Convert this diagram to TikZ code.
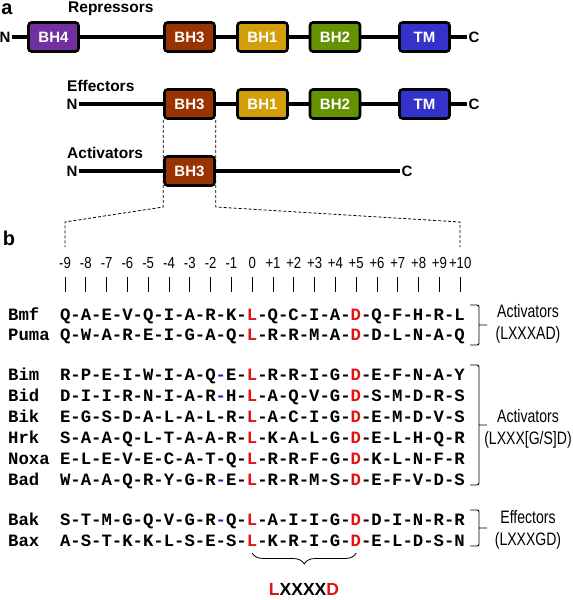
\documentclass[tikz,border=0pt]{standalone}
\usepackage{fontspec}
\setmainfont{Liberation Sans}
\newfontfamily\seqfont{Liberation Mono}
\newfontfamily\narrowfont[FakeStretch=0.82]{Liberation Sans}
\newfontfamily\clsfont[FakeStretch=0.78]{Liberation Sans}
\usetikzlibrary{decorations.pathreplacing}
\definecolor{bhfour}{RGB}{112,48,160}
\definecolor{bhthree}{RGB}{153,51,0}
\definecolor{bhone}{RGB}{210,158,10}
\definecolor{bhtwo}{RGB}{102,145,0}
\definecolor{tmblue}{RGB}{51,51,204}
\definecolor{seqred}{RGB}{225,20,20}
\definecolor{seqblue}{RGB}{30,30,220}
\newcommand\R[1]{\textcolor{seqred}{#1}}
\newcommand\B[1]{\textcolor{seqblue}{#1}}

\begin{document}
\begin{tikzpicture}[x=1pt,y=-1pt,
  dom/.style={draw=black,line width=2.6pt,rounded corners=3pt,minimum width=50pt,minimum height=29pt,inner sep=0pt,text=white,font=\fontsize{15}{15}\selectfont\bfseries},
  term/.style={font=\fontsize{15}{15}\selectfont\bfseries,inner sep=1pt},
  backbone/.style={line width=3.5pt},
  grp/.style={font=\fontsize{15.5}{15.5}\selectfont\bfseries,anchor=west,inner sep=0pt},
  seq/.style={font=\seqfont\bfseries\fontsize{17.3}{17.3}\selectfont,anchor=west,inner sep=0pt,text height=10pt,text depth=0pt},
  num/.style={font=\narrowfont\fontsize{16}{16}\selectfont,inner sep=0pt},
  tick/.style={line width=0.8pt},
  bracket/.style={line width=0.9pt,rounded corners=2pt},
  cls/.style={font=\clsfont\fontsize{18}{22}\selectfont,align=center,inner sep=0pt},
  zoomline/.style={line width=0.8pt,dash pattern=on 3pt off 2pt}]
\useasboundingbox (0,0) rectangle (573,600);

% a: domain maps
\node[font=\fontsize{20}{20}\selectfont\bfseries,inner sep=0pt] (lbla) at (7,9) {a};
\node[grp] (rep) at (68,9) {Repressors};
\node[term] (n1) at (5,37) {N};
\node[term] (c1) at (474,37) {C};
\draw[backbone] (n1.east) -- (c1.west);
\node[dom,fill=bhfour] (r4) at (53.5,37) {BH4};
\node[dom,fill=bhthree] (r3) at (189.5,37) {BH3};
\node[dom,fill=bhone] (r1) at (262.5,37) {BH1};
\node[dom,fill=bhtwo] (r2) at (335,37) {BH2};
\node[dom,fill=tmblue] (rtm) at (424.5,37) {TM};

\node[grp] (eff) at (67,86) {Effectors};
\node[term] (n2) at (72,104) {N};
\node[term] (c2) at (474,104) {C};
\draw[backbone] (n2.east) -- (c2.west);
\node[dom,fill=bhthree] (e3) at (189.5,104) {BH3};
\node[dom,fill=bhone] (e1) at (262.5,104) {BH1};
\node[dom,fill=bhtwo] (e2) at (335,104) {BH2};
\node[dom,fill=tmblue] (etm) at (424.5,104) {TM};

% zoom into BH3
\draw[zoomline] (e3.south west) -- (e3.south west |- 0,207) -- (65,222) -- (65,247);
\draw[zoomline] (e3.south east) -- (e3.south east |- 0,207) -- (460,222) -- (460,247);

\node[grp] (act) at (67,153) {Activators};
\node[term] (n3) at (72,171) {N};
\node[term] (c3) at (407,171) {C};
\draw[backbone] (n3.east) -- (c3.west);
\node[dom,fill=bhthree] (a3) at (189.5,171) {BH3};

% b: BH3 alignment
\node[font=\fontsize{20}{20}\selectfont\bfseries,inner sep=0pt] (lblb) at (9,238) {b};
\foreach \lbl [count=\i from 0] in {-9,-8,-7,-6,-5,-4,-3,-2,-1,0,+1,+2,+3,+4,+5,+6,+7,+8,+9,+10}{
  \node[num] (p\i) at (65+20.8*\i,263) {\lbl};
  \draw[tick] (p\i |- 0,277) -- (p\i |- 0,292);
}

\node[seq] (bmf) at (8,315) {Bmf};
\node[seq] (sbmf) at (59.8,315) {Q-A-E-V-Q-I-A-R-K-\R{L}-Q-C-I-A-\R{D}-Q-F-H-R-L};
\node[seq] (puma) at (8,335) {Puma};
\node[seq] (spuma) at (59.8,335) {Q-W-A-R-E-I-G-A-Q-\R{L}-R-R-M-A-\R{D}-D-L-N-A-Q};

\node[seq] (bim) at (8,375) {Bim};
\node[seq] (sbim) at (59.8,375) {R-P-E-I-W-I-A-Q\B{-}E-\R{L}-R-R-I-G-\R{D}-E-F-N-A-Y};
\node[seq] (bid) at (8,396) {Bid};
\node[seq] (sbid) at (59.8,396) {D-I-I-R-N-I-A-R\B{-}H-\R{L}-A-Q-V-G-\R{D}-S-M-D-R-S};
\node[seq] (bik) at (8,417) {Bik};
\node[seq] (sbik) at (59.8,417) {E-G-S-D-A-L-A-L-R-\R{L}-A-C-I-G-\R{D}-E-M-D-V-S};
\node[seq] (hrk) at (8,438) {Hrk};
\node[seq] (shrk) at (59.8,438) {S-A-A-Q-L-T-A-A-R-\R{L}-K-A-L-G-\R{D}-E-L-H-Q-R};
\node[seq] (noxa) at (8,459) {Noxa};
\node[seq] (snoxa) at (59.8,459) {E-L-E-V-E-C-A-T-Q-\R{L}-R-R-F-G-\R{D}-K-L-N-F-R};
\node[seq] (bad) at (8,480) {Bad};
\node[seq] (sbad) at (59.8,480) {W-A-A-Q-R-Y-G-R\B{-}E-\R{L}-R-R-M-S-\R{D}-E-F-V-D-S};

\node[seq] (bak) at (8,520) {Bak};
\node[seq] (sbak) at (59.8,520) {S-T-M-G-Q-V-G-R\B{-}Q-\R{L}-A-I-I-G-\R{D}-D-I-N-R-R};
\node[seq] (bax) at (8,541) {Bax};
\node[seq] (sbax) at (59.8,541) {A-S-T-K-K-L-S-E-S-\R{L}-K-R-I-G-\R{D}-E-L-D-S-N};

% classes
\draw[bracket] (470,305) -- (479,305) -- (479,345) -- (470,345) (479,325) -- (487,325);
\node[cls] (cact1) at (528,324) {Activators\\(LXXXAD)};
\draw[bracket] (470,365) -- (479,365) -- (479,485) -- (470,485) (479,425) -- (487,425);
\node[cls] (cact2) at (528,429) {Activators\\(LXXX[G/S]D)};
\draw[bracket] (470,510) -- (479,510) -- (479,546) -- (470,546) (479,528) -- (487,528);
\node[cls] (ceff) at (528,530) {Effectors\\(LXXXGD)};

% motif
\draw[decorate,decoration={brace,mirror,amplitude=11pt},line width=0.8pt] (p9 |- 0,553) -- (p14 |- 0,553);
\node[font=\fontsize{17.5}{17.5}\selectfont\bfseries,inner sep=0pt] (motif) at (304,589) {\R{L}XXXX\R{D}};
\end{tikzpicture}
\end{document}
